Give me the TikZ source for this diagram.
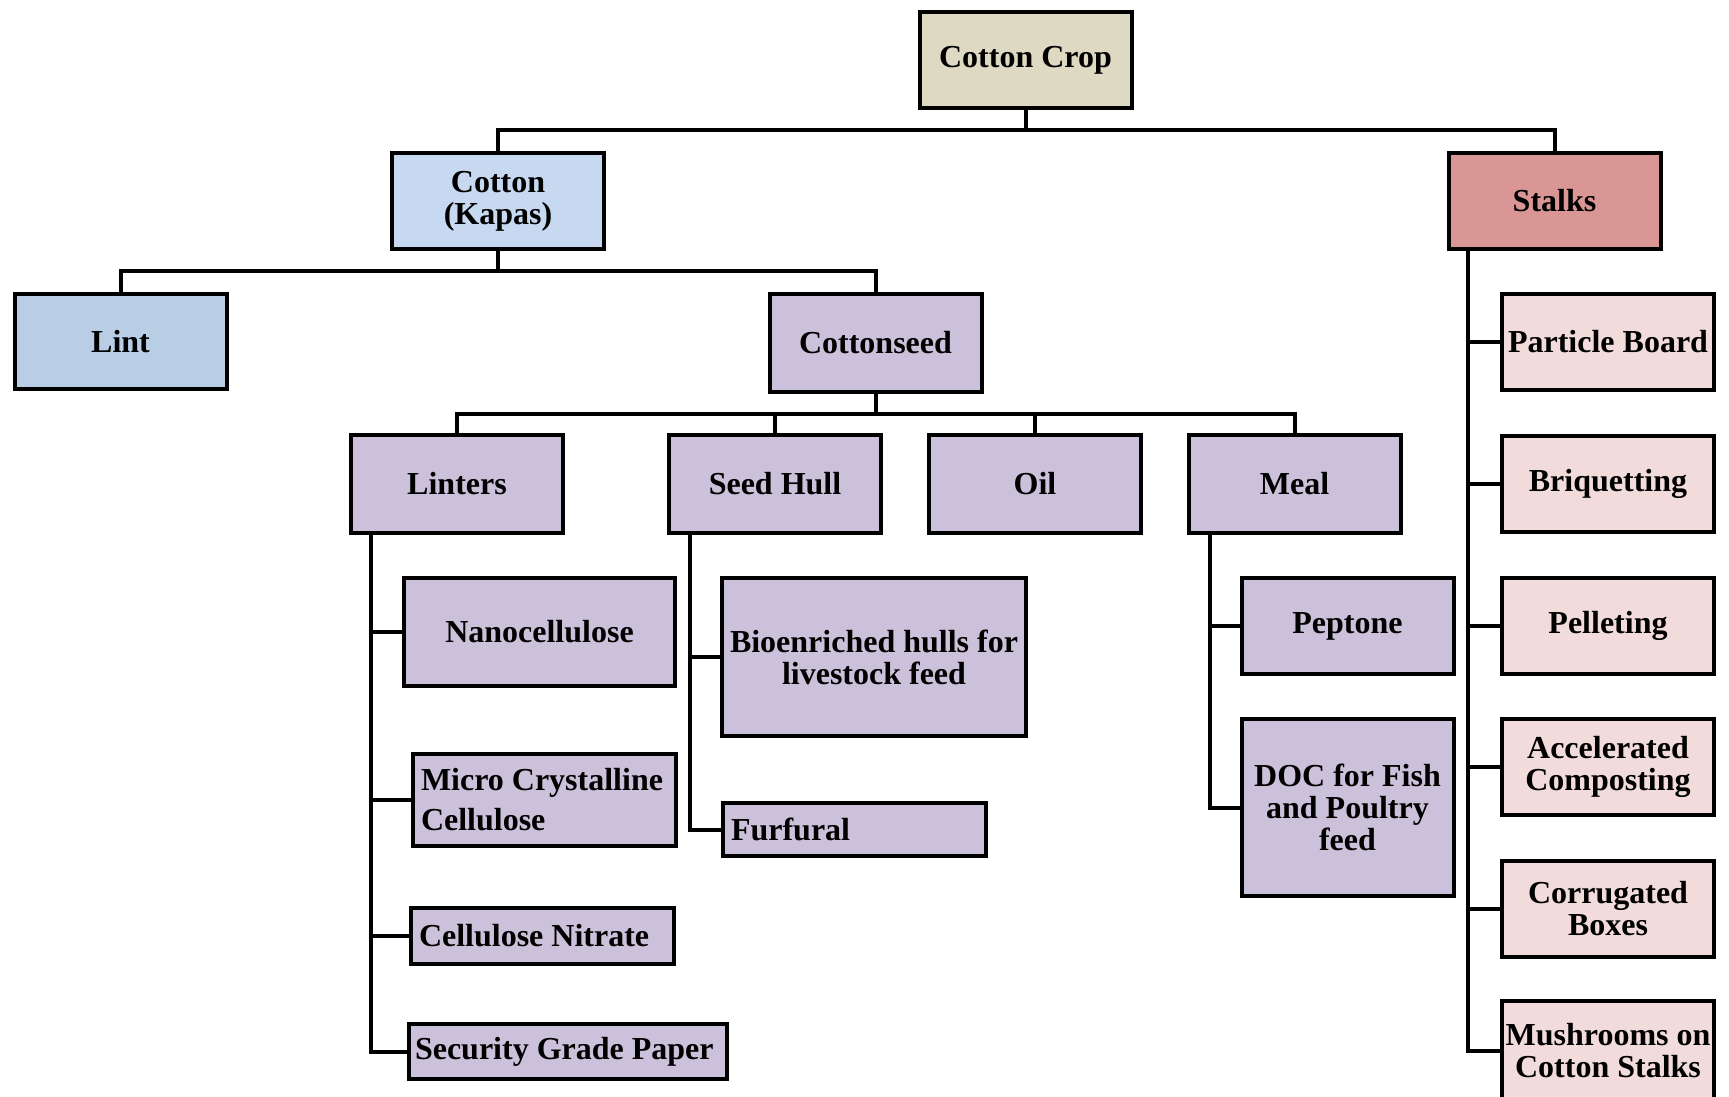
\documentclass[tikz,border=0pt]{standalone}
\usepackage{fontspec}
\setmainfont{Liberation Serif}
\definecolor{cropbeige}{HTML}{DDD9C3}
\definecolor{kapasblue}{HTML}{C6D9F1}
\definecolor{lintblue}{HTML}{B9CDE5}
\definecolor{stalkred}{HTML}{D99694}
\definecolor{stalkpink}{HTML}{F2DCDB}
\definecolor{seedpurple}{HTML}{CCC1DA}

\begin{document}
\begin{tikzpicture}[x=0.5pt,y=-0.5pt,every node/.style={draw, line width=2pt, outer sep=0pt, align=center, inner sep=2pt, font=\bfseries\fontsize{16}{16}\selectfont},std/.style={minimum width=106pt, minimum height=48pt},cropnode/.style={std, fill=cropbeige},kapasnode/.style={std, fill=kapasblue},lintnode/.style={std, fill=lintblue},stalknode/.style={std, fill=stalkred},stalkuse/.style={std, fill=stalkpink},seednode/.style={fill=seedpurple},lefttext/.style={align=flush left, inner xsep=4pt, text width=#1},link/.style={line width=2pt}]
\path[use as bounding box] (0,0) rectangle (1729,1097);
\clip (0,0) rectangle (1729,1097);
\node[cropnode] (crop) at (1025.5,60) {Cotton Crop};
\node[kapasnode] (kapas) at (498,201) {Cotton\\(Kapas)};
\node[stalknode] (stalks) at (1554.5,201) {Stalks};
\node[lintnode, minimum height=47.5pt] (lint) at (120.5,341.5) {Lint};
\node[seednode, std, minimum height=49pt] (seed) at (875.5,343) {Cottonseed};
\node[seednode, std, minimum height=49pt] (linters) at (457,484) {Linters};
\node[seednode, std, minimum height=49pt] (hull) at (775,484) {Seed Hull};
\node[seednode, std, minimum height=49pt] (oil) at (1035,484) {Oil};
\node[seednode, std, minimum height=49pt] (meal) at (1294.5,484) {Meal};
\node[seednode, minimum width=135.5pt, minimum height=54pt] (nano) at (539.5,632) {Nanocellulose};
\node[seednode, lefttext=123.5pt, minimum height=46pt, font=\bfseries\fontsize{16}{20}\selectfont] (mcc) at (544.5,800) {Micro Crystalline\\Cellulose};
\node[seednode, lefttext=123.5pt, minimum height=28pt] (nitrate) at (542.5,936) {Cellulose Nitrate};
\node[seednode, lefttext=153pt, inner xsep=3pt, minimum height=27.5pt] (paper) at (568,1051.5) {Security Grade Paper};
\node[seednode, minimum width=152pt, minimum height=79pt] (bio) at (874,657) {Bioenriched hulls for\\livestock feed};
\node[seednode, lefttext=123.5pt, minimum height=26.5pt] (furfural) at (854.5,829.5) {Furfural};
\node[seednode, std] (peptone) at (1347.5,626) {Peptone};
\node[seednode, std, minimum height=88.5pt] (doc) at (1347.5,807.5) {DOC for Fish\\and Poultry\\feed};
\node[stalkuse] (particle) at (1608,342) {Particle Board};
\node[stalkuse] (briq) at (1608,484) {Briquetting};
\node[stalkuse] (pellet) at (1608,626) {Pelleting};
\node[stalkuse] (compost) at (1608,767) {Accelerated\\Composting};
\node[stalkuse] (boxes) at (1608,908.5) {Corrugated\\Boxes};
\node[stalkuse, minimum height=50pt] (mush) at (1608,1051) {Mushrooms on\\Cotton Stalks};
\draw[link] (crop.south) -- ++(0,22);
\draw[link] (kapas.north) -- ++(0,-23) -| (stalks.north);
\draw[link] (kapas.south) -- ++(0,22);
\draw[link] (lint.north) -- ++(0,-23) -| (seed.north);
\draw[link] (seed.south) -- ++(0,21.5);
\draw[link] (linters.north) -- ++(0,-21.5) -| (meal.north);
\draw[link] (hull.north) -- ++(0,-21.5);
\draw[link] (oil.north) -- ++(0,-21.5);
\coordinate (lt) at ([xshift=10pt]linters.south west);
\draw[link] (lt) |- (paper.west);
\foreach \n in {nano,mcc,nitrate} \draw[link] (lt |- \n.west) -- (\n.west);
\coordinate (ht) at ([xshift=10.5pt]hull.south west);
\draw[link] (ht) |- (furfural.west);
\draw[link] (ht |- bio.west) -- (bio.west);
\coordinate (mt) at ([xshift=10.75pt]meal.south west);
\draw[link] (mt) |- (doc.west);
\draw[link] (mt |- peptone.west) -- (peptone.west);
\coordinate (st) at ([xshift=9.75pt]stalks.south west);
\draw[link] (st) |- (mush.west);
\foreach \n in {particle,briq,pellet,compost,boxes} \draw[link] (st |- \n.west) -- (\n.west);
\end{tikzpicture}
\end{document}
